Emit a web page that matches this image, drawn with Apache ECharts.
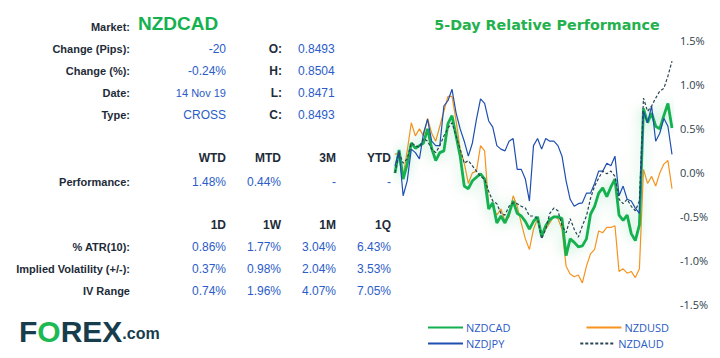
<!DOCTYPE html>
<html><head><meta charset="utf-8">
<script src="https://cdn.jsdelivr.net/npm/echarts@6/dist/echarts.min.js"></script>
<style>html,body{margin:0;padding:0;background:#fff}#c{width:720px;height:358px}</style>
</head><body><div id="c"></div>
<script>
// ---- data ----
const nzdcad = [-0.01,0.25,-0.08,0.09,0.33,0.27,0.3,0.33,0.49,0.27,0.13,0.22,0.24,0.55,0.64,0.41,0.18,-0.16,-0.19,-0.1,-0.06,-0.02,-0.08,-0.42,-0.35,-0.58,-0.5,-0.58,-0.47,-0.33,-0.47,-0.5,-0.56,-0.65,-0.56,-0.51,-0.73,-0.61,-0.54,-0.51,-0.51,-0.53,-0.95,-0.76,-0.8,-0.85,-0.84,-0.76,-0.48,-0.39,-0.24,-0.18,-0.28,-0.17,-0.08,-0.49,-0.55,-0.49,-0.7,-0.78,-0.6,0.72,0.56,0.67,0.52,0.49,0.64,0.78,0.5];
const nzdusd = [0.2,0.22,-0.05,0.24,0.56,0.41,0.49,0.41,0.61,0.44,0.35,0.52,0.69,0.86,0.86,0.58,0.26,0.1,-0.13,-0.01,0.01,0.3,0.24,-0.39,-0.39,-0.49,-0.42,-0.56,-0.51,-0.27,-0.39,-0.58,-0.76,-0.88,-0.65,-0.53,-0.73,-0.65,-0.58,-0.5,-0.53,-0.65,-1.07,-1.16,-1.19,-1.17,-1.26,-1.07,-0.93,-0.88,-0.67,-0.69,-0.63,-0.63,-0.61,-1.13,-1.1,-1.15,-1.13,-1.2,-1.1,0.03,-0.13,-0.05,-0.16,-0.01,0.09,0.13,-0.19];
const nzdjpy = [0.07,0.24,-0.27,-0.1,0.26,0.22,0.15,0.44,0.6,0.35,0.3,0.3,0.75,0.81,0.94,0.67,0.49,0.35,0.18,0.33,0.6,0.83,0.78,0.58,0.51,0.3,0.26,0.24,0.35,0.38,0.03,0.03,-0.08,-0.33,0.3,0.38,0.26,0.38,0.35,0.35,0.3,0.18,-0.1,-0.31,-0.39,-0.36,-0.35,-0.24,-0.24,-0.13,0.01,0.01,0.1,0.07,0.18,-0.27,-0.16,-0.31,-0.33,-0.41,-0.47,0.69,0.56,0.75,0.35,0.44,0.61,0.52,0.2];
const nzdaud = [-0.01,0.22,0.1,0.15,0.33,0.3,0.28,0.38,0.35,0.26,0.22,0.3,0.41,0.5,0.56,0.41,0.26,0.1,0.13,0.07,0.01,-0.05,-0.08,-0.22,-0.33,-0.36,-0.47,-0.49,-0.39,-0.35,-0.36,-0.39,-0.41,-0.5,-0.5,-0.53,-0.76,-0.65,-0.47,-0.41,-0.44,-0.61,-0.69,-0.53,-0.65,-0.74,-0.61,-0.5,-0.3,-0.16,-0.07,0.01,-0.02,0.01,-0.05,-0.31,-0.36,-0.31,-0.39,-0.44,-0.33,0.84,0.69,0.75,0.84,0.92,0.95,1.09,1.26];
const seriesNames = ['NZDCAD','NZDUSD','NZDJPY','NZDAUD'];
const yTicks = [-1.5,-1.0,-0.5,0.0,0.5,1.0,1.5];

const marketName = 'NZDCAD';
const infoLabels = ['Change (Pips):','Change (%):','Date:','Type:'];
const infoValues = ['-20','-0.24%','14 Nov 19','CROSS'];
const ohlcLabels = ['O:','H:','L:','C:'];
const ohlcValues = ['0.8493','0.8504','0.8471','0.8493'];
const perfHeaders = ['WTD','MTD','3M','YTD'];
const perfValues = ['1.48%','0.44%','-','-'];
const volHeaders = ['1D','1W','1M','1Q'];
const volRows = ['% ATR(10):','Implied Volatility (+/-):','IV Range'];
const atrValues = ['0.86%','1.77%','3.04%','6.43%'];
const ivValues = ['0.37%','0.98%','2.04%','3.53%'];
const ivRangeValues = ['0.74%','1.96%','4.07%','7.05%'];

const categories = nzdcad.map((_, i) => String(i));

// ---- styles ----
const LBL = '#1e2b38', VAL = '#2b5cc8', GREEN = '#13b14f';
const labelFont = 'bold 11px "Liberation Sans", Arial, sans-serif';
const valFont = '12px "Liberation Sans", Arial, sans-serif';
const g = [];
function txt(t, x, y, align, font, color){
  g.push({type:'text', style:{text:t, x:x, y:y, align:align, verticalAlign:'middle', font:font, fill:color}});
}
txt('Market:',130,27,'right',labelFont,LBL);
txt(marketName,138,23,'left','bold 19px "Liberation Sans", Arial, sans-serif',GREEN);
const rowY = [49,71,93,115];
infoLabels.forEach((l,i)=>{
  txt(l,130,rowY[i],'right',labelFont,LBL);
  txt(infoValues[i],226,rowY[i],'right', i===2 ? '11px "Liberation Sans", Arial, sans-serif' : valFont, VAL);
  txt(ohlcLabels[i],282,rowY[i],'right','bold 12px "Liberation Sans", Arial, sans-serif',LBL);
  txt(ohlcValues[i],298,rowY[i],'left',valFont,VAL);
});
const colX = [226,281,336,391];
perfHeaders.forEach((h,i)=>{ txt(h,colX[i],158,'right','bold 12px "Liberation Sans", Arial, sans-serif',LBL); txt(perfValues[i],colX[i],182,'right',valFont,VAL); });
txt('Performance:',130,182,'right',labelFont,LBL);
volHeaders.forEach((h,i)=>{ txt(h,colX[i],225,'right','bold 12px "Liberation Sans", Arial, sans-serif',LBL); });
const volY = [247,269,291];
const volVals = [atrValues, ivValues, ivRangeValues];
volRows.forEach((r,j)=>{
  txt(r,130,volY[j],'right',labelFont,LBL);
  volVals[j].forEach((v,i)=>txt(v,colX[i],volY[j],'right',valFont,VAL));
});
// logo
g.push({type:'text', style:{
  text:'{a|F}{b|O}{a|REX}{c|.com}', x:19, y:331, verticalAlign:'middle',
  rich:{
    a:{font:'bold 30px "Liberation Sans", Arial, sans-serif', fill:'#173d4c'},
    b:{font:'bold 30px "Liberation Sans", Arial, sans-serif', fill:'#1db954'},
    c:{font:'bold 16px "Liberation Sans", Arial, sans-serif', fill:'#173d4c', padding:[4,0,0,0]}
  }}});
// chart title
g.push({type:'text', style:{text:'5-Day Relative Performance', x:547, y:25, align:'center', verticalAlign:'middle',
  font:'bold 14.3px "DejaVu Sans", sans-serif', fill:'#22b14c', shadowColor:'rgba(0,0,0,0.25)', shadowBlur:2, shadowOffsetX:1, shadowOffsetY:1}});

const legendCommon = {left:422, itemWidth:35, itemHeight:3, itemGap:75,
  itemStyle:{opacity:0},
  textStyle:{color:'#2a5bc4', fontFamily:'"Open Sans", sans-serif', fontSize:11, padding:[0,0,0,-2]}};

const chart = echarts.init(document.getElementById('c'), null, {renderer:'svg'});
chart.setOption({
  animation:false,
  graphic:g,
  grid:{left:395, right:48, top:40, bottom:54},
  xAxis:{type:'category', data:categories, boundaryGap:false, show:false},
  yAxis:{type:'value', position:'right', min:-1.5, max:1.5, interval:0.5,
    axisLine:{show:false}, axisTick:{show:false}, splitLine:{show:false},
    axisLabel:{margin:8, color:'#2d3e4a', fontFamily:'"Open Sans", sans-serif', fontSize:11,
      formatter:v=>{ const t=yTicks.find(x=>Math.abs(x-v)<1e-9); return (t!==undefined?t:v).toFixed(1)+'%'; }}},
  legend:[
    Object.assign({data:['NZDCAD','NZDUSD'], top:317}, legendCommon),
    Object.assign({data:['NZDJPY','NZDAUD'], top:333}, legendCommon)
  ],
  series:[
    {name:seriesNames[0], type:'line', data:nzdcad, symbol:'none', z:3,
      lineStyle:{color:GREEN, width:2.8, shadowColor:'rgba(19,177,79,0.35)', shadowBlur:14}, itemStyle:{color:GREEN}},
    {name:seriesNames[1], type:'line', data:nzdusd, symbol:'none', z:2,
      lineStyle:{color:'#f7931e', width:1.2}, itemStyle:{color:'#f7931e'}},
    {name:seriesNames[2], type:'line', data:nzdjpy, symbol:'none', z:4,
      lineStyle:{color:'#1f4fb0', width:1.2}, itemStyle:{color:'#1f4fb0'}},
    {name:seriesNames[3], type:'line', data:nzdaud, symbol:'none', z:5,
      lineStyle:{color:'#2a4452', width:1.2, type:[3,2]}, itemStyle:{color:'#2a4452'}}
  ]
});
</script></body></html>
